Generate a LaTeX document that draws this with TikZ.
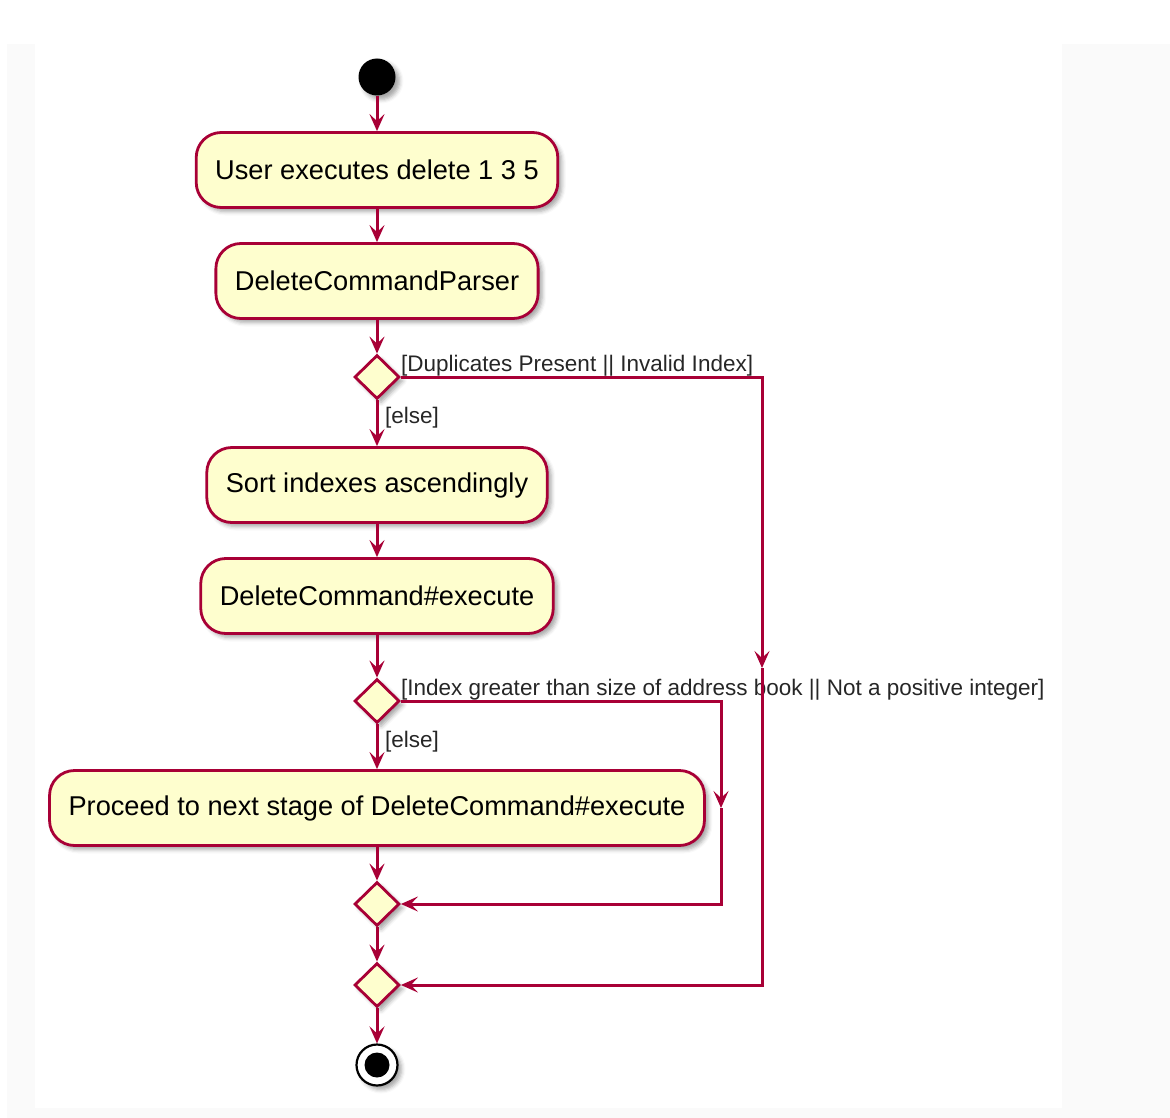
\documentclass[tikz,border=0pt]{standalone}
\usepackage{fontspec}
\setmainfont{Liberation Sans}
\usetikzlibrary{arrows.meta,shapes.geometric,shadows.blur}
\definecolor{pline}{HTML}{A80036}
\definecolor{pfill}{HTML}{FEFECE}
\definecolor{bgstrip}{HTML}{FAFAFA}
\tikzset{
  shad/.style={blur shadow={shadow xshift=4pt, shadow yshift=-4pt, shadow blur radius=4pt, shadow opacity=35}},
  act/.style={draw=pline, fill=pfill, line width=2.8pt, rounded corners=25pt, minimum height=75pt, inner xsep=19pt, font=\fontsize{27.2}{31}\selectfont, shad},
  dec/.style={diamond, draw=pline, fill=pfill, line width=2.8pt, minimum width=45pt, minimum height=44pt, inner sep=0pt, shad},
  flow/.style={draw=pline, line width=3pt, -{Stealth[length=17pt,width=15pt,inset=7pt]}},
  guard/.style={font=\fontsize{22.5}{26}\selectfont, inner sep=0pt, text=black!85},
}
\begin{document}
\begin{tikzpicture}[x=1pt,y=-1pt]
\useasboundingbox (0,0) rectangle (1170,1118);
\fill[bgstrip] (7,44) rectangle (35,1108);
\fill[bgstrip] (1062,44) rectangle (1170,1118);
\fill[bgstrip] (7,1108) rectangle (1170,1118);

\node[circle, fill=black, minimum size=37pt, inner sep=0pt, shad] (start) at (377,77) {};
\node[act] (a1) at (377,170) {User executes delete 1 3 5};
\node[act] (a2) at (377,281) {DeleteCommandParser};
\node[dec] (d1) at (377,377) {};
\node[act] (a3) at (377,485) {Sort indexes ascendingly};
\node[act] (a4) at (377,596) {DeleteCommand\#execute};
\node[dec] (d2) at (377,701) {};
\node[act] (a5) at (377,808) {Proceed to next stage of DeleteCommand\#execute};
\node[dec] (d3) at (377,904) {};
\node[dec] (d4) at (377,985) {};
\node[circle, draw=black, line width=2.2pt, fill=white, minimum size=41pt, inner sep=0pt, shad] (stop) at (377,1065) {};
\node[circle, fill=black, minimum size=25pt, inner sep=0pt] (stopdot) at (stop.center) {};

\node[guard, anchor=base west] (g1) at (401,371) {[Duplicates Present || Invalid Index]};
\node[guard, anchor=base west] (e1) at (385,423) {[else]};
\node[guard, anchor=base west] (g2) at (401,695) {[Index greater than size of address book || Not a positive integer]};
\node[guard, anchor=base west] (e2) at (385,747) {[else]};

\coordinate (c1) at (762,377);
\coordinate (m1) at (762,668);
\coordinate (c2) at (762,985);
\coordinate (c3) at (721,701);
\coordinate (m2) at (721,808);
\coordinate (c4) at (721,904);

\draw[flow] (start) -- (a1);
\draw[flow] (a1) -- (a2);
\draw[flow] (a2) -- (d1);
\draw[flow] (d1) -- (a3);
\draw[flow] (a3) -- (a4);
\draw[flow] (a4) -- (d2);
\draw[flow] (d2) -- (a5);
\draw[flow] (a5) -- (d3);
\draw[flow] (d3) -- (d4);
\draw[flow] (d4) -- (stop);
\draw[flow] (d1.east) -- (c1) -- (m1);
\draw[flow] (m1) -- (c2) -- (d4.east);
\draw[flow] (d2.east) -- (c3) -- (m2);
\draw[flow] (m2) -- (c4) -- (d3.east);
\end{tikzpicture}
\end{document}
